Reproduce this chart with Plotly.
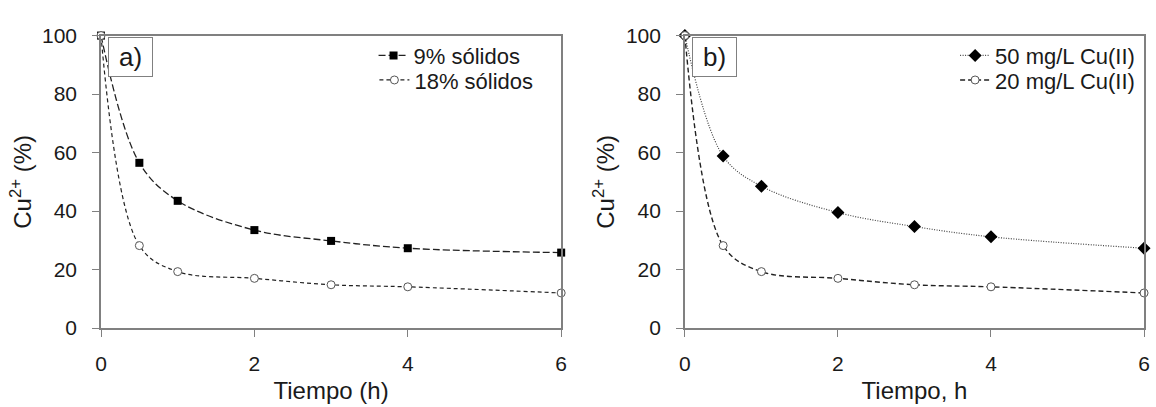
import plotly.graph_objects as go

tiempo = [0, 0.5, 1, 2, 3, 4, 6]
solidos_9 = [100, 56.5, 43.5, 33.5, 29.8, 27.3, 25.8]
solidos_18 = [100, 28.2, 19.3, 17.0, 14.8, 14.1, 12.0]
cu_50 = [100, 58.8, 48.5, 39.5, 34.7, 31.2, 27.3]
cu_20 = [100, 28.2, 19.3, 17.0, 14.8, 14.1, 12.0]

W, H = 1156, 407
FONT = "Liberation Sans, Arial, sans-serif"
AX = "#808080"
TXT = "#1a1a1a"

fig = go.Figure()

def px_x(p):
    return p / W

def px_y(p):
    return 1 - p / H

fig.add_trace(go.Scatter(x=tiempo, y=solidos_9, name="9% sólidos", mode="lines+markers", showlegend=True,
                         line=dict(color="#222", width=1.3, dash="7px,3px", shape="spline", smoothing=1.0),
                         marker=dict(symbol="square", size=8, color="black"),
                         xaxis="x", yaxis="y", legend="legend", cliponaxis=False))
fig.add_trace(go.Scatter(x=tiempo, y=solidos_18, name="18% sólidos", mode="lines+markers", showlegend=True,
                         line=dict(color="#222", width=1.2, dash="4px,3px", shape="spline", smoothing=1.0),
                         marker=dict(symbol="circle", size=8, color="white", line=dict(color="#555", width=1)),
                         xaxis="x", yaxis="y", legend="legend3", cliponaxis=False))
fig.add_trace(go.Scatter(x=tiempo, y=cu_50, name="50 mg/L Cu(II)", mode="lines+markers", showlegend=True,
                         line=dict(color="#444", width=1.2, dash="1px,1.5px", shape="spline", smoothing=1.0),
                         marker=dict(symbol="diamond", size=10, color="black"),
                         xaxis="x2", yaxis="y2", legend="legend2", cliponaxis=False))
fig.add_trace(go.Scatter(x=tiempo, y=cu_20, name="20 mg/L Cu(II)", mode="lines+markers", showlegend=True,
                         line=dict(color="#222", width=1.4, dash="5px,3px", shape="spline", smoothing=1.0),
                         marker=dict(symbol="circle", size=8, color="white", line=dict(color="#555", width=1)),
                         xaxis="x2", yaxis="y2", legend="legend4", cliponaxis=False))

xt = [0, 2, 4, 6]
yt = [0, 20, 40, 60, 80, 100]
common_x = dict(range=[0, 6], tickvals=xt, showline=True, linecolor=AX, linewidth=1.5, mirror=True,
                ticks="outside", ticklen=7, tickcolor=AX, showgrid=False, zeroline=False,
                ticklabelstandoff=9,
                tickfont=dict(size=21, color=TXT, family=FONT), title_font=dict(size=24, color=TXT, family=FONT),
                title_standoff=8)
common_y = dict(range=[0, 100], tickvals=yt, showline=True, linecolor=AX, linewidth=1.5, mirror=True,
                ticks="outside", ticklen=7, tickcolor=AX, showgrid=False, zeroline=False,
                ticklabelstandoff=11,
                tickfont=dict(size=21, color=TXT, family=FONT), title_font=dict(size=24, color=TXT, family=FONT),
                title_standoff=4)

def leg(xr, ytop):
    return dict(x=px_x(xr), y=px_y(ytop), xanchor="right", yanchor="top", bgcolor="rgba(0,0,0,0)",
                font=dict(size=22, color=TXT, family=FONT), tracegroupgap=0, itemwidth=30)

ydom = [px_y(335), px_y(25)]
fig.update_layout(
    width=W, height=H, margin=dict(l=0, r=0, t=0, b=0),
    paper_bgcolor="white", plot_bgcolor="white", showlegend=True,
    xaxis=dict(domain=[px_x(96), px_x(561)], anchor="y", title_text="Tiempo (h)", **common_x),
    yaxis=dict(domain=ydom, anchor="x", title_text="Cu<sup>2+</sup> (%)", **common_y),
    xaxis2=dict(domain=[px_x(686), px_x(1150)], anchor="y2", title_text="Tiempo, h", **common_x),
    yaxis2=dict(domain=ydom, anchor="x2", title_text="Cu<sup>2+</sup> (%)", **common_y),
    legend=leg(525, 24),
    legend3=leg(538, 50),
    legend2=leg(1146, 24),
    legend4=leg(1146, 50),
    annotations=[
        dict(text="a)", xref="paper", yref="paper", x=px_x(103), y=px_y(27), xanchor="left", yanchor="top",
             showarrow=False, font=dict(size=26, color=TXT, family=FONT), bordercolor=AX, borderwidth=1,
             bgcolor="white", borderpad=1, width=41, height=36),
        dict(text="b)", xref="paper", yref="paper", x=px_x(693), y=px_y(27), xanchor="left", yanchor="top",
             showarrow=False, font=dict(size=26, color=TXT, family=FONT), bordercolor=AX, borderwidth=1,
             bgcolor="white", borderpad=1, width=41, height=36),
    ],
)

fig.write_html("out.html")
